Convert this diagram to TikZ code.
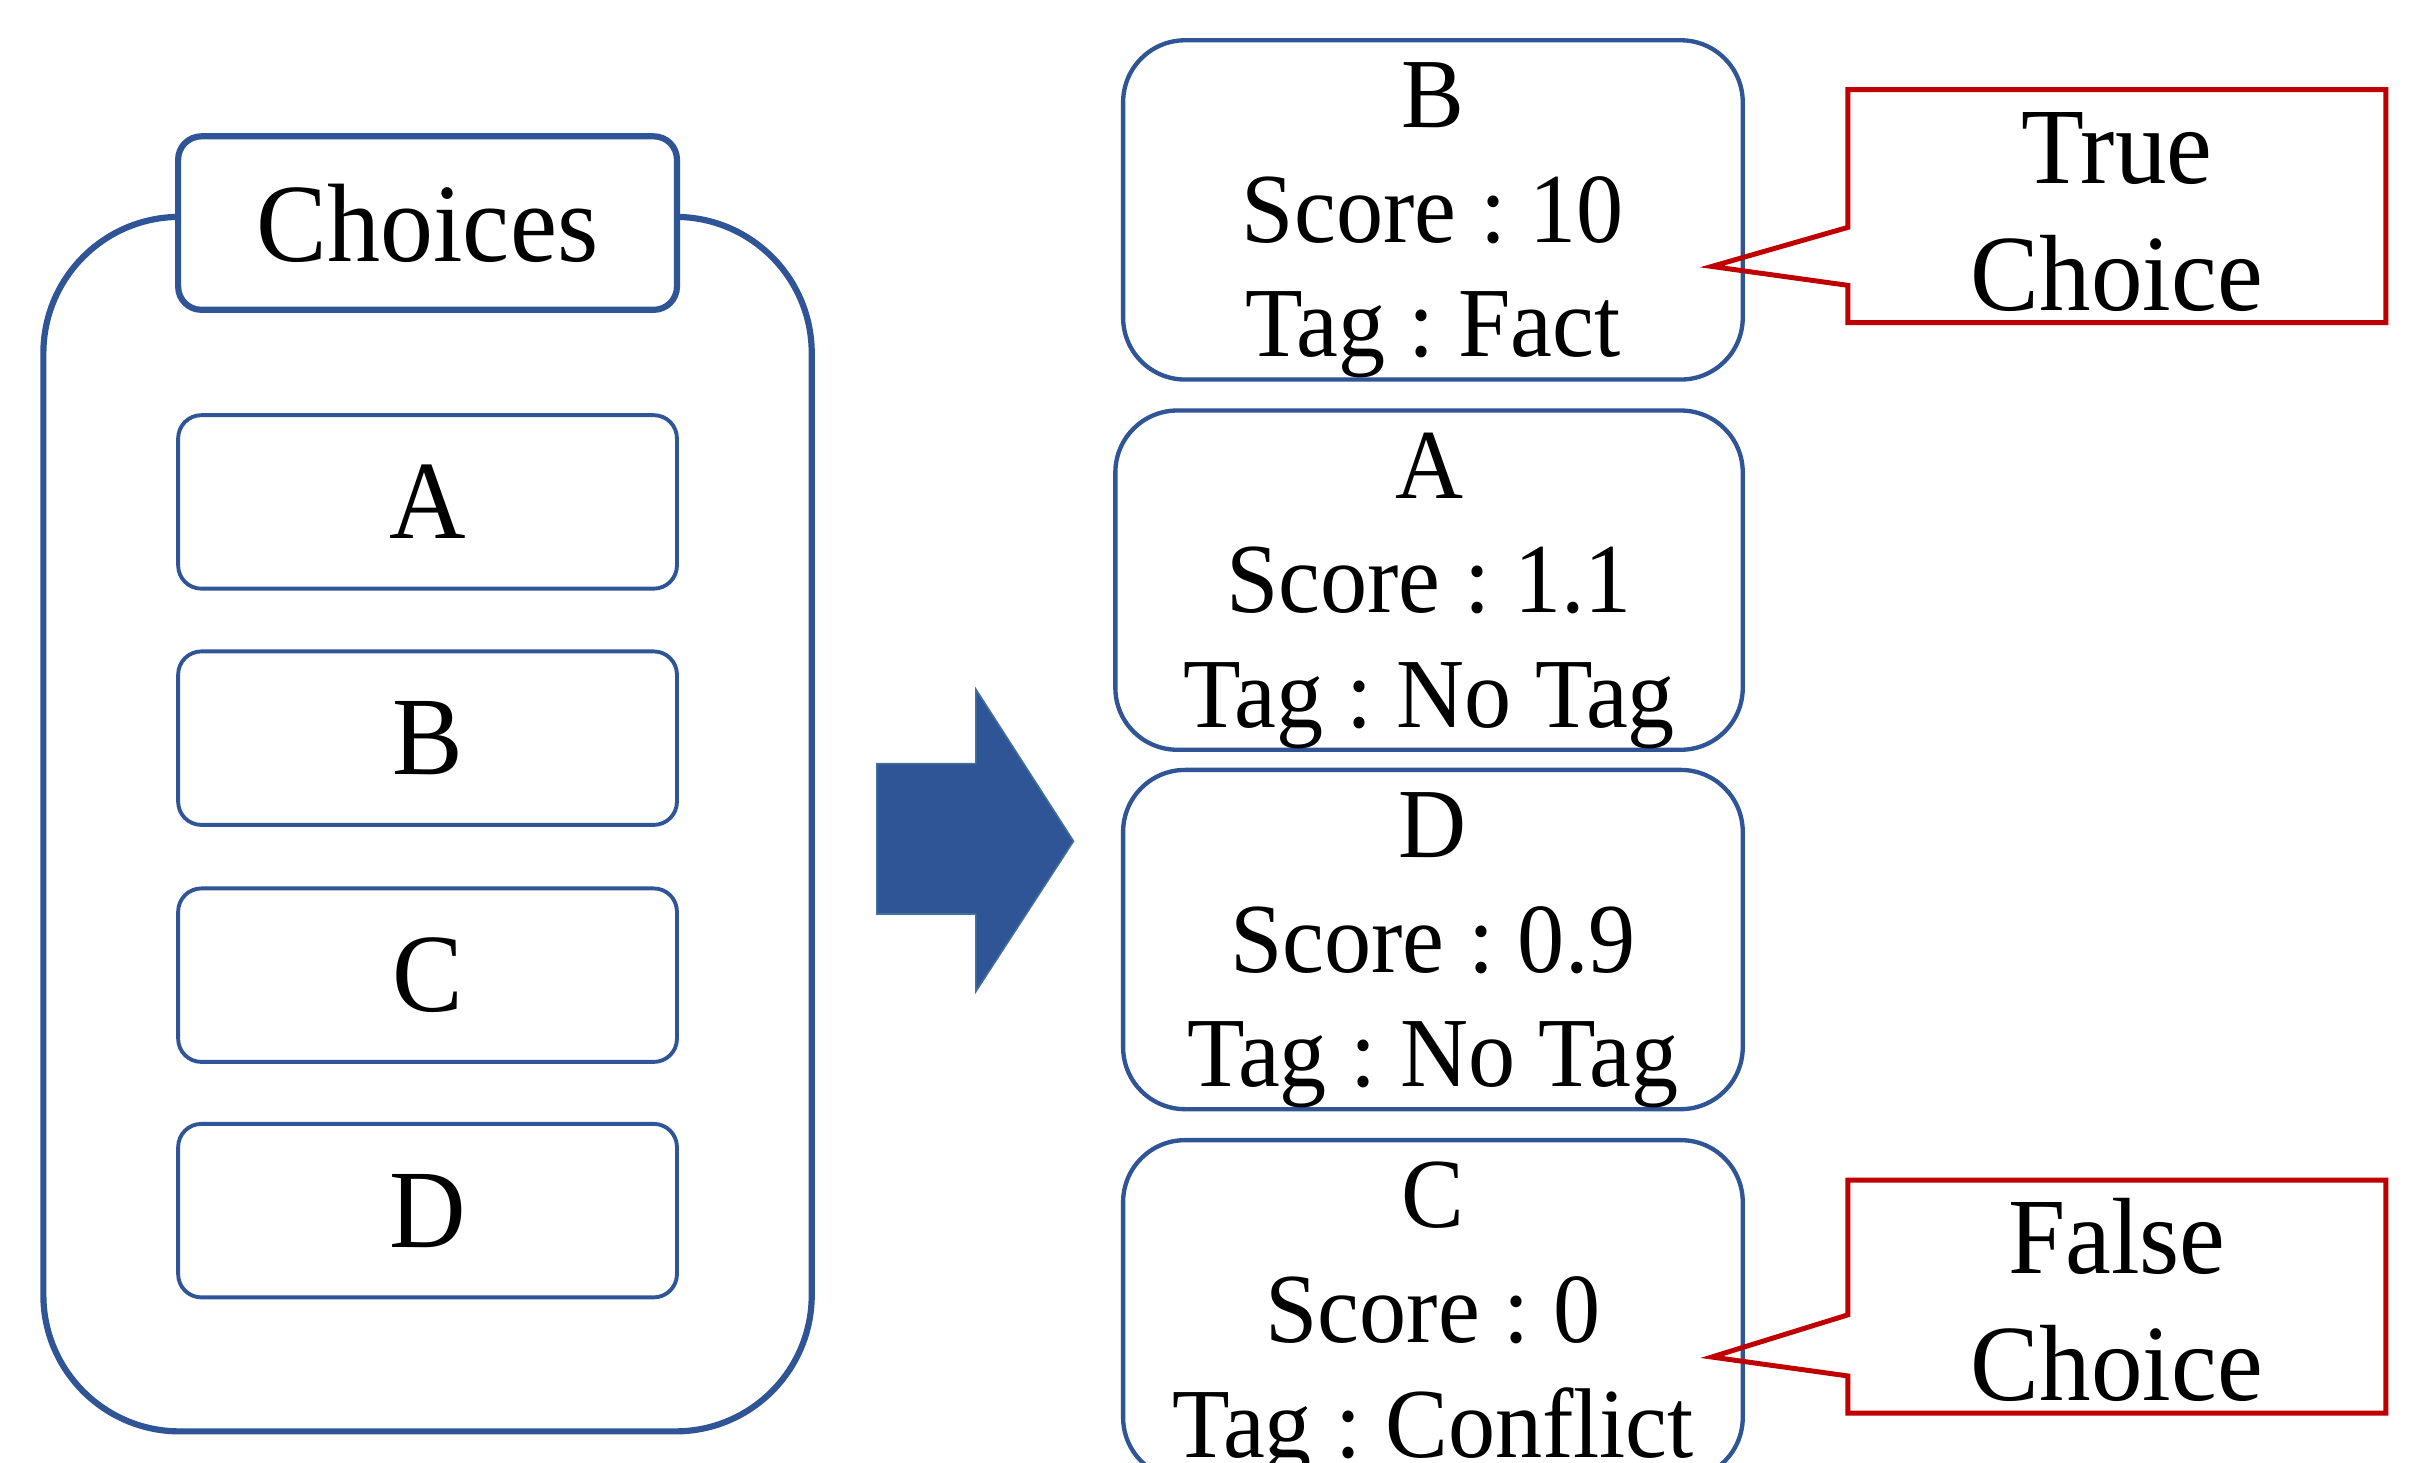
\documentclass[tikz,border=0pt]{standalone}
\usepackage{fontspec}
\setmainfont{Liberation Serif}[FakeStretch=0.95]
\usetikzlibrary{calc}
\definecolor{boxblue}{HTML}{2F5597}
\definecolor{arrowedge}{HTML}{41719C}
\definecolor{calloutred}{HTML}{C00000}
\newcommand{\highstrut}[1]{\rule{0pt}{#1}}
\tikzset{
  choicebox/.style={draw=boxblue, line width=2.5pt, rounded corners=15pt,
    minimum width=322pt, minimum height=112pt, inner sep=0pt,
    font=\fontsize{72}{80}\selectfont},
  resultbox/.style={draw=boxblue, line width=2.8pt, rounded corners=40pt,
    minimum height=219pt, inner sep=0pt, align=center, text depth=0pt,
    font=\fontsize{64}{74}\selectfont},
  notebox/.style={minimum width=347pt, minimum height=150pt, inner sep=0pt,
    align=center, font=\fontsize{70}{82}\selectfont},
  noteline/.style={draw=calloutred, line width=3.2pt, line join=miter},
}
\begin{document}
\frenchspacing
\begin{tikzpicture}[x=1pt, y=-1pt]
            \useasboundingbox (0,0) rectangle (1568,944);

            % choices panel
            \draw[boxblue, line width=4pt, rounded corners=88pt] (28,140) rectangle (524,924);
            \node[choicebox, fill=white, line width=4pt] (choices) at (276,144) {Choices};
            \node[choicebox] (optA) at (276,324) {A};
            \node[choicebox] (optB) at (276,476.5) {B};
            \node[choicebox] (optC) at (276,629.5) {C};
            \node[choicebox] (optD) at (276,781.5) {D};

            \fill[boxblue, draw=arrowedge, line width=1pt] (566,493) -- (630,493) -- (630,445)
                -- (693,543) -- (630,640) -- (630,590) -- (566,590) -- cycle;

            % ranked results
            \node[resultbox, minimum width=400pt] (resB) at (925,135.5) {B\\Score : 10\\Tag : Fact};
            \node[resultbox, minimum width=405pt] (resA) at (922.5,374.5) {A\\Score : 1.1\\Tag : No Tag};
            \node[resultbox, minimum width=400pt] (resD) at (925,606.5) {D\\Score : 0.9\\Tag : No Tag};
            \node[resultbox, minimum width=400pt] (resC) at (925,845.5) {C\\Score : 0\\Tag : Conflict};

            % callouts
            \node[notebox] (trueNote) at (1366.5,133) {\highstrut{53pt}True\\Choice};
            \coordinate (trueTip) at (1105,172);
            \draw[noteline] (trueNote.north west) -- (trueNote.north east) -- (trueNote.south east)
                -- (trueNote.south west) -- ++(0,-24) -- (trueTip)
                -- ($(trueNote.north west)+(0,89)$) -- cycle;

            \node[notebox] (falseNote) at (1366.5,837) {\highstrut{53pt}False\\Choice};
            \coordinate (falseTip) at (1105,876);
            \draw[noteline] (falseNote.north west) -- (falseNote.north east) -- (falseNote.south east)
                -- (falseNote.south west) -- ++(0,-24) -- (falseTip)
                -- ($(falseNote.north west)+(0,87)$) -- cycle;
        \end{tikzpicture}
\end{document}
